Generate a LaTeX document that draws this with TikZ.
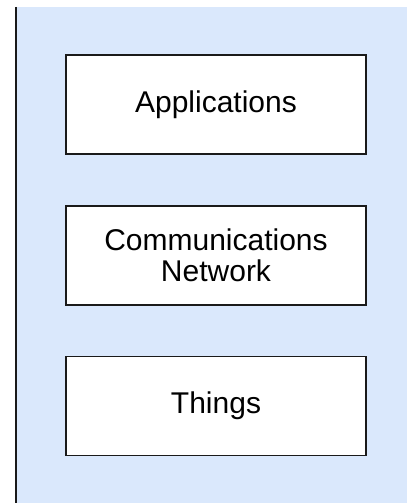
\documentclass[tikz,border=0pt]{standalone}
\usepackage{fontspec}
\setmainfont{Liberation Sans}
\definecolor{bgblue}{HTML}{DAE8FC}
\definecolor{edge}{HTML}{1A1A1A}
\begin{document}
\begin{tikzpicture}[x=1pt,y=-1pt,
  layerbox/.style={draw=edge, line width=1.2pt, fill=white, minimum width=300pt, minimum height=99pt, inner sep=0pt, align=center,
    font=\fontsize{30}{31}\selectfont}]
\useasboundingbox (0,0) rectangle (407,503);
\fill[white] (0,0) rectangle (407,503);
\fill[bgblue] (16,7) rectangle (407,503);
\draw[edge, line width=1.2pt] (16,7) -- (16,503);
\node[layerbox] (apps) at (216,104.5) {Applications};
\node[layerbox] (net) at (216,255.5) {Communications\\Network};
\node[layerbox] (things) at (216,406) {Things};
\end{tikzpicture}
\end{document}
